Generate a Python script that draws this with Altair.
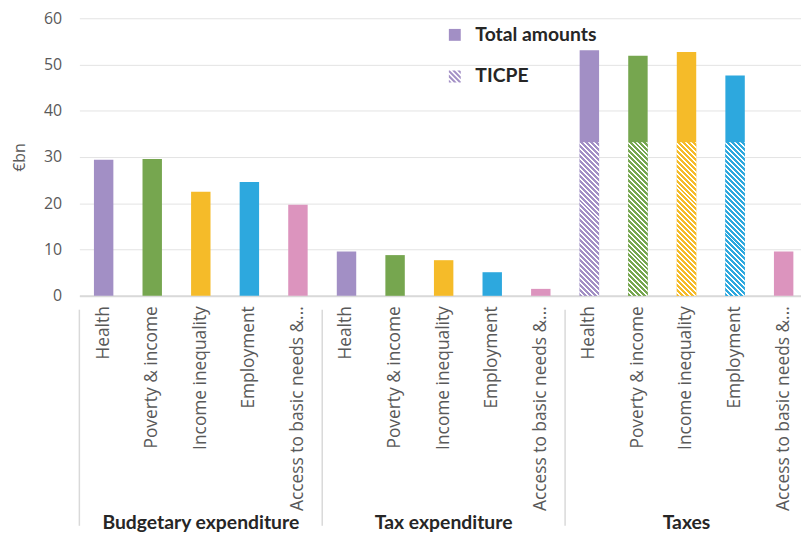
import altair as alt
import pandas as pd

# ---------------- data ----------------
groups = ["Budgetary expenditure", "Tax expenditure", "Taxes"]
categories = ["Health", "Poverty & income", "Income inequality", "Employment",
              "Access to basic needs &..."]
budgetary = [29.4, 29.6, 22.5, 24.6, 19.7]
tax_expenditure = [9.6, 8.8, 7.7, 5.1, 1.5]
taxes = [53.1, 51.9, 52.7, 47.6, 9.6]
ticpe = [33.2, 33.2, 33.2, 33.2, None]          # TICPE share within "Taxes"
colors = ["#a28fc5", "#76a64f", "#f5bb29", "#2da8de", "#dc94be"]
legend_items = ["Total amounts", "TICPE"]
y_ticks = [0, 10, 20, 30, 40, 50, 60]

rows = []
for g, vals in zip(groups, [budgetary, tax_expenditure, taxes]):
    for c, v in zip(categories, vals):
        rows.append({"group": g, "category": c, "key": f"{g}|{c}", "value": v})
df = pd.DataFrame(rows)
keys = list(df["key"])

ticpe_rows = [{"key": f"Taxes|{c}", "category": c, "ticpe": v}
              for c, v in zip(categories, ticpe) if v is not None]
ticpe_df = pd.DataFrame(ticpe_rows)

group_df = pd.DataFrame({"group": groups,
                         "key": [f"{g}|{categories[2]}" for g in groups]})
sep_df = pd.DataFrame({"key": [f"{g}|{categories[0]}" for g in groups]})
legend_df = pd.DataFrame({"series": legend_items})

# ---------------- layout / style ----------------
W, H = 728, 280
X_RANGE = 735
STEP = X_RANGE / len(keys)
BAND = 0.40
GRAY = "#595959"
LIGHT = "#d9d9d9"
AX_FONT = "Open Sans"
BOLD_FONT = "Lato"

x_scale = alt.Scale(domain=keys, range=[0, X_RANGE], paddingInner=0, paddingOuter=0)
x_axis = alt.Axis(title=None, labelExpr="split(datum.value, '|')[1]", labelAngle=-90,
                  labelFont=AX_FONT, labelFontSize=17.5, labelColor=GRAY, labelPadding=10,
                  labelLimit=400, ticks=False, tickSize=0, domainColor=LIGHT,
                  domainWidth=2, grid=False)


def xenc(**kw):
    return alt.X("key:N", sort=keys, scale=x_scale, axis=x_axis, **kw)


y_scale = alt.Scale(domain=[0, 60], nice=False)
y_axis = alt.Axis(title="€bn", values=y_ticks, titleFont=AX_FONT, titleFontSize=16,
                  titleFontWeight="normal", titleColor=GRAY, titlePadding=16,
                  labelFont=AX_FONT, labelFontSize=16, labelColor=GRAY, labelPadding=18,
                  ticks=False, tickSize=0, domain=False, gridColor="#e3e3e3",
                  gridWidth=1)


def yenc(field):
    return alt.Y(field, scale=y_scale, axis=y_axis)


def hatch_gradient(color, w, h, period=5.0, frac=0.6):
    span = w + h
    stops = []
    k = 0
    while k * period < span:
        a = k * period / span
        b = min((k + frac) * period / span, 1.0)
        c = min((k + 1) * period / span, 1.0)
        stops += [alt.GradientStop(color=color, offset=a),
                  alt.GradientStop(color=color, offset=b),
                  alt.GradientStop(color="#ffffff", offset=b),
                  alt.GradientStop(color="#ffffff", offset=c)]
        k += 1
    cc = span / (w * w + h * h)
    return alt.LinearGradient(gradient="linear", stops=stops,
                              x1=0, y1=1, x2=cc * w, y2=1 - cc * h)


def clip(poly, f):
    out = []
    n = len(poly)
    for i in range(n):
        p, q = poly[i], poly[(i + 1) % n]
        fp, fq = f(p), f(q)
        if fp >= 0:
            out.append(p)
        if (fp >= 0) != (fq >= 0):
            t = fp / (fp - fq)
            out.append((p[0] + t * (q[0] - p[0]), p[1] + t * (q[1] - p[1])))
    return out


def hatch_path(period=0.85, frac=0.55):
    parts = []
    c1 = -2.0
    while c1 < 2.0:
        c2 = c1 + frac * period
        sq = [(-1, -1), (1, -1), (1, 1), (-1, 1)]
        poly = clip(sq, lambda p, c=c1: (p[0] - p[1]) - c)
        poly = clip(poly, lambda p, c=c2: c - (p[0] - p[1]))
        if len(poly) >= 3:
            parts.append("M" + "L".join(f"{x:.3f},{y:.3f}" for x, y in poly) + "Z")
        c1 += period
    return "".join(parts)


# ---------------- layers ----------------
bars = alt.Chart(df).mark_bar(width=alt.RelativeBandSize(BAND)).encode(
    x=xenc(),
    y=yenc("value:Q"),
    color=alt.Color("category:N", scale=alt.Scale(domain=categories, range=colors),
                    legend=None),
)

hatch_layers = []
bar_w = BAND * STEP
for c, v, col in zip(categories, ticpe, colors):
    if v is None:
        continue
    h = v * H / 60.0
    layer = alt.Chart(ticpe_df).transform_filter(
        alt.datum.category == c
    ).mark_bar(width=alt.RelativeBandSize(BAND), fill=hatch_gradient(col, bar_w, h),
               strokeWidth=0).encode(
        x=xenc(),
        y=yenc("ticpe:Q"),
    )
    hatch_layers.append(layer)

seps = alt.Chart(sep_df).mark_rule(color=LIGHT, strokeWidth=1.5).encode(
    x=xenc(bandPosition=0),
    y=alt.value(H + 14),
    y2=alt.value(H + 232),
)

group_labels = alt.Chart(group_df).mark_text(
    font=BOLD_FONT, fontSize=19.5, fontWeight="bold", color="#262626",
    align="center", baseline="alphabetic"
).encode(
    x=xenc(),
    y=alt.value(H + 235),
    text="group:N",
)

legend_layer = alt.Chart(legend_df).transform_filter("false").mark_point(
    filled=True, color="#a28fc5", opacity=1
).encode(
    shape=alt.Shape("series:N", sort=legend_items,
                    scale=alt.Scale(domain=legend_items, range=["square", hatch_path()]),
                    legend=alt.Legend(title=None, orient="none", legendX=369, legendY=7,
                                      padding=0, symbolSize=144, symbolStrokeWidth=0,
                                      symbolFillColor="#a28fc5", symbolOpacity=1,
                                      labelFont=BOLD_FONT, labelFontSize=19.5,
                                      labelFontWeight="bold", labelColor="#262626",
                                      labelOffset=11, rowPadding=21)),
)

chart = alt.layer(bars, *hatch_layers, seps, group_labels, legend_layer).properties(
    width=W, height=H,
    autosize=alt.AutoSizeParams(type="none"),
    padding={"left": 72, "top": 8, "right": 0, "bottom": 245},
    background="white",
).configure_view(stroke=None)

chart.save("out.html", embed_options={"renderer": "svg", "actions": False})
